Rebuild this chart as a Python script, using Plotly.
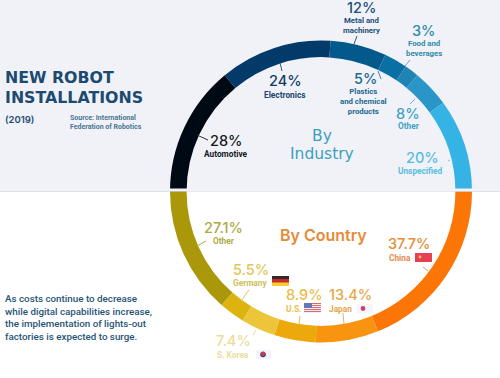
import plotly.graph_objects as go

W, H = 500, 378
industry_labels = ["Automotive", "Electronics", "Metal and machinery", "Plastics and chemical products", "Food and beverages", "Other", "Unspecified"]
industry_values = [28, 24, 12, 5, 3, 8, 20]
industry_colors = ["#000a14", "#023a6a", "#03598c", "#0a6fa3", "#1f84b4", "#2a96c8", "#35b3e4"]
country_labels = ["China", "Japan", "U.S.", "S. Korea", "Germany", "Other"]
country_values = [37.7, 13.4, 8.9, 7.4, 5.5, 27.1]
country_colors = ["#fb7507", "#f99410", "#eda80c", "#edc53a", "#dcb30f", "#ab980a"]


def px(x):
    return x / W


def py(y):
    return 1 - y / H


fig = go.Figure()
domain = dict(x=[px(170), px(472)], y=[py(342.5), py(40.5)])
fig.add_trace(go.Pie(values=industry_values + [sum(industry_values)], labels=industry_labels + ["hidden"],
                     marker=dict(colors=industry_colors + ["rgba(0,0,0,0)"], line=dict(width=0)),
                     hole=0.89, rotation=270, direction="clockwise", sort=False,
                     textinfo="none", hoverinfo="label+value", domain=domain, showlegend=False))
fig.add_trace(go.Pie(values=country_values + [sum(country_values)], labels=country_labels + ["hidden"],
                     marker=dict(colors=country_colors + ["rgba(0,0,0,0)"], line=dict(width=0)),
                     hole=0.89, rotation=90, direction="clockwise", sort=False,
                     textinfo="none", hoverinfo="label+value", domain=domain, showlegend=False))

shapes = []


def rect(x0, y0, x1, y1, color, layer="above"):
    shapes.append(dict(type="rect", xref="paper", yref="paper", x0=px(x0), x1=px(x1), y0=py(y0), y1=py(y1),
                       fillcolor=color, line=dict(width=0), layer=layer))


def line(x0, y0, x1, y1, color, width=1):
    shapes.append(dict(type="line", xref="paper", yref="paper", x0=px(x0), x1=px(x1), y0=py(y0), y1=py(y1),
                       line=dict(color=color, width=width)))


def circle(cx, cy, r, color):
    shapes.append(dict(type="circle", xref="paper", yref="paper", x0=px(cx - r), x1=px(cx + r), y0=py(cy + r), y1=py(cy - r),
                       fillcolor=color, line=dict(width=0)))


rect(0, 0, W, 191, "#f1f2f7", "below")
rect(0, 191, W, 192, "#dfe1e6", "below")
rect(168, 188.5, 474, 191.5, "#f1f2f7")

# leader lines
line(197, 135, 208, 140, "#333333")
line(280, 63, 282, 71, "#2a5a80")
line(357, 36, 354, 44, "#2a5a80")
line(410, 60, 405, 66, "#6aa7c4")
line(381, 79, 378, 71, "#3f88a8")
line(415, 99, 410, 104, "#6ab0cf")
line(450, 160, 448, 161, "#7cc4e4")
line(197, 246, 206, 241, "#b5a73c")
line(249, 290, 241, 301, "#dcc65a")
line(256, 330, 253, 335, "#e8d78c")
line(300, 316, 299, 325, "#e4bd55")
line(343, 313, 344, 324, "#e5b26a")
line(423, 267, 428, 271, "#e59a6a")

# flags
rect(272, 276, 289, 286, "#ffcc33")
rect(272, 276, 289, 282.5, "#cc2a2a")
rect(272, 276, 289, 279, "#2b2b2b")
rect(304, 303, 321, 313, "#eeeef5")
for i in range(0, 5):
    rect(304, 303 + i * 2, 321, 304 + i * 2, "#d86a74")
rect(304, 303, 312, 308, "#5f78b8")
rect(357, 304, 373, 313, "#f6f6fa")
circle(363, 308.5, 2.4, "#d0406a")
rect(415, 253, 432, 262, "#e83f55")
circle(420, 257, 1.4, "#f0d060")
rect(256, 350, 271, 359, "#f3f3fa")
circle(263, 354.5, 2.8, "#30407f")
circle(263, 353.7, 2.2, "#cf3a50")

ann = []


def text(x, y, s, size, color, family="Inter", anchor="center", weight=500):
    ann.append(dict(x=px(x), y=py(y), xref="paper", yref="paper", text=s, showarrow=False, align=anchor,
                    xanchor=anchor, yanchor="middle", borderpad=0, borderwidth=0,
                    font=dict(size=size, color=color, family=family, weight=weight)))


Cond = "Roboto"
navy = "#1c4a70"
text(5, 78, "NEW ROBOT", 15.8, navy, "DejaVu Sans", "left", 700)
text(5, 97, "INSTALLATIONS", 15.8, navy, "DejaVu Sans", "left", 700)
text(5, 119, "(2019)", 9.5, navy, "Inter", "left", 600)
text(70, 122.5, "Source: International<br>Federation of Robotics", 7, "#4b7594", Cond, "left", 700)

text(5, 317, "As costs continue to decrease<br>while digital capabilities increase,<br>"
             "the implementation of lights-out<br>factories is expected to surge.", 9.8, "#1f5478", Cond, "left", 500)

L = 8.3
P = 14.5
text(226, 140.5, "28%", P, "#141a24")
text(226, 153.5, "Automotive", L, "#141a24", Cond, weight=700)
text(285, 80.5, "24%", P, "#103c64")
text(285, 94.5, "Electronics", L, "#17466e", Cond, weight=700)
text(361, 7.5, "12%", P, "#1c4f76")
text(361, 25, "Metal and<br>machinery", 7.8, "#1c4f76", Cond, weight=700)
text(424, 30.5, "3%", P, "#2f8ba8")
text(424, 48, "Food and<br>beverages", 7.8, "#2f8ba8", Cond, weight=700)
text(365, 78.5, "5%", P, "#23688f")
text(363, 101, "Plastics<br>and chemical<br>products", 7.8, "#23688f", Cond, weight=700)
text(408, 113.5, "8%", P, "#3fa2c4")
text(408, 126, "Other", L, "#3fa2c4", Cond, weight=700)
text(422, 157.5, "20%", P, "#56bde2")
text(420, 171, "Unspecified", L, "#56bde2", Cond, weight=700)
text(322, 135.5, "By", 15.5, "#3c9fbe", "DejaVu Sans", weight=400)
text(322, 154, "Industry", 15.5, "#3c9fbe", "DejaVu Sans", weight=400)

text(323, 235, "By Country", 16, "#e58b37", weight=600)
text(409, 243.5, "37.7%", P, "#e58b37")
text(400, 258, "China", L, "#e58b50", Cond, weight=700)
text(350, 294.5, "13.4%", P, "#e5a74a")
text(340, 308.5, "Japan", L, "#e5a74a", Cond, weight=700)
text(304, 294.5, "8.9%", P, "#e9bd4a")
text(293, 308.5, "U.S.", L, "#e9bd4a", Cond, weight=700)
text(251, 269.5, "5.5%", P, "#e1c758")
text(250, 282.5, "Germany", L, "#cdbf5a", Cond, weight=700)
text(233, 340.5, "7.4%", P, "#eddc9a")
text(233, 354.5, "S. Korea", L, "#ecdc9c", Cond, weight=700)
text(223, 227.5, "27.1%", P, "#adaa44")
text(223, 241.5, "Other", L, "#adaa44", Cond, weight=700)

fig.update_layout(width=W, height=H, margin=dict(l=0, r=0, t=0, b=0), paper_bgcolor="white",
                  shapes=shapes, annotations=ann, showlegend=False)
fig.write_html("out.html", config={"displayModeBar": False},
               post_script="document.body.style.margin='0';document.documentElement.style.overflow='hidden';")
